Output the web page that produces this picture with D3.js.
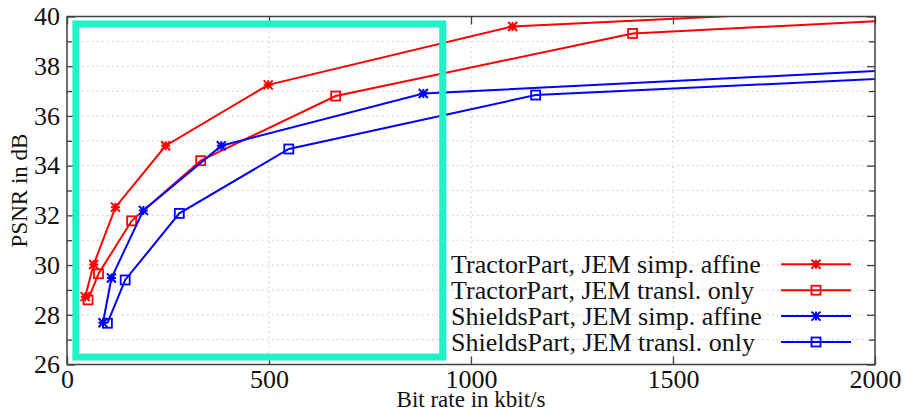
<!DOCTYPE html>
<html>
<head>
<meta charset="utf-8">
<script src="https://cdn.jsdelivr.net/npm/d3@7"></script>
<style>
  html, body { margin: 0; padding: 0; background: #fff; }
  svg { display: block; }
  text { font-family: "Liberation Serif", "Times New Roman", serif; fill: #111; }
</style>
</head>
<body>
<svg id="chart" width="906" height="409"></svg>
<script>
// Rate-distortion measurements (bit rate in kbit/s, PSNR in dB)
const tractorAffineRate = [45, 66, 120, 244, 498, 1103, 2300];
const tractorAffinePsnr = [28.73, 30.02, 32.33, 34.8, 37.25, 39.6, 40.53];

const tractorTranslRate = [52, 78, 160, 331, 665, 1400, 2600];
const tractorTranslPsnr = [28.6, 29.65, 31.78, 34.2, 36.8, 39.32, 40.29];

const shieldsAffineRate = [89, 110, 189, 382, 882, 2600];
const shieldsAffinePsnr = [27.68, 29.48, 32.2, 34.8, 36.9, 38.29];

const shieldsTranslRate = [100, 144, 278, 549, 1160, 2600];
const shieldsTranslPsnr = [27.66, 29.4, 32.08, 34.67, 36.84, 37.94];

const seriesNames = [
  "TractorPart, JEM simp. affine",
  "TractorPart, JEM transl. only",
  "ShieldsPart, JEM simp. affine",
  "ShieldsPart, JEM transl. only"
];
const seriesColors = ["#ff0000", "#ff0000", "#0000ff", "#0000ff"];
const seriesMarkers = ["star", "square", "star", "square"];

const xTicks = [0, 500, 1000, 1500, 2000];
const yTicks = [26, 28, 30, 32, 34, 36, 38, 40];
const yMinorTicks = [27, 29, 31, 33, 35, 37, 39];
const xLabel = "Bit rate in kbit/s";
const yLabel = "PSNR in dB";

// Highlighted low-rate region
const regionRate = [22, 930];
const regionPsnr = [26.3, 39.7];

(function () {
  const series = [
    [tractorAffineRate, tractorAffinePsnr],
    [tractorTranslRate, tractorTranslPsnr],
    [shieldsAffineRate, shieldsAffinePsnr],
    [shieldsTranslRate, shieldsTranslPsnr]
  ].map(([r, p], i) => ({
    name: seriesNames[i],
    color: seriesColors[i],
    marker: seriesMarkers[i],
    points: r.map((v, j) => ({ x: v, y: p[j] }))
  }));

  const svg = d3.select("#chart");
  const pl = 67, pr = 875, pt = 16.5, pb = 364.5;

  const x = d3.scaleLinear().domain([0, 2000]).range([pl, pr]);
  const y = d3.scaleLinear().domain([26, 40]).range([pb, pt]);

  svg.append("defs").append("clipPath").attr("id", "plotClip")
    .append("rect").attr("x", pl).attr("y", pt)
    .attr("width", pr - pl).attr("height", pb - pt);

  // Grid
  const grid = svg.append("g").attr("stroke", "#c8c8c8").attr("stroke-width", 1)
    .attr("stroke-dasharray", "1.5,3.5");
  grid.selectAll("line.h").data(d3.range(27, 40)).join("line")
    .attr("class", "h")
    .attr("x1", pl).attr("x2", pr)
    .attr("y1", d => y(d)).attr("y2", d => y(d));
  grid.selectAll("line.v").data(xTicks.slice(1, -1)).join("line")
    .attr("class", "v")
    .attr("y1", pt).attr("y2", pb)
    .attr("x1", d => x(d)).attr("x2", d => x(d));

  // Axes built with d3 axis generators, ticks pointing inward
  const axisColor = "#404040";
  function styleAxis(g) {
    g.select(".domain").remove();
    g.selectAll(".tick line").attr("stroke", axisColor).attr("stroke-width", 1.3);
  }
  function styleText(g) {
    g.selectAll("text").attr("font-size", 26).attr("fill", "#111")
      .attr("font-family", "Liberation Serif");
  }
  svg.append("g").attr("transform", `translate(0,${pb})`)
    .call(d3.axisBottom(x).tickValues(xTicks).tickSize(-8).tickPadding(5).tickFormat(d3.format("d")))
    .call(styleAxis).call(styleText);
  svg.append("g").attr("transform", `translate(0,${pt})`)
    .call(d3.axisTop(x).tickValues(xTicks).tickSize(-8).tickFormat(""))
    .call(styleAxis);
  svg.append("g").attr("transform", `translate(${pl},0)`)
    .call(d3.axisLeft(y).tickValues(yTicks).tickSize(-8).tickPadding(7).tickFormat(d3.format("d")))
    .call(styleAxis).call(styleText);
  svg.append("g").attr("transform", `translate(${pl},0)`)
    .call(d3.axisLeft(y).tickValues(yMinorTicks).tickSize(-5).tickFormat(""))
    .call(styleAxis);
  svg.append("g").attr("transform", `translate(${pr},0)`)
    .call(d3.axisRight(y).tickValues(yTicks).tickSize(-8).tickFormat(""))
    .call(styleAxis);
  svg.append("g").attr("transform", `translate(${pr},0)`)
    .call(d3.axisRight(y).tickValues(yMinorTicks).tickSize(-6).tickFormat(""))
    .call(styleAxis);

  // Series lines and markers
  const line = d3.line().x(d => x(d.x)).y(d => y(d.y));
  const plot = svg.append("g").attr("clip-path", "url(#plotClip)");

  function drawMarker(g, type, color) {
    if (type === "square") {
      g.append("rect").attr("x", -4.5).attr("y", -4.5).attr("width", 9).attr("height", 9)
        .attr("fill", "none").attr("stroke", color).attr("stroke-width", 1.8);
    } else {
      const r = 4.5;
      const p = `M${-r},0H${r}M0,${-r}V${r}M${-r},${-r}L${r},${r}M${-r},${r}L${r},${-r}`;
      g.append("path").attr("d", p).attr("stroke", color).attr("stroke-width", 2)
        .attr("fill", "none");
    }
  }

  series.forEach(s => {
    plot.append("path").datum(s.points)
      .attr("d", line).attr("fill", "none")
      .attr("stroke", s.color).attr("stroke-width", 2);
    s.points.forEach(p => {
      const g = plot.append("g").attr("transform", `translate(${x(p.x)},${y(p.y)})`);
      drawMarker(g, s.marker, s.color);
    });
  });

  // Highlight box
  svg.append("rect")
    .attr("x", x(regionRate[0])).attr("y", y(regionPsnr[1]))
    .attr("width", x(regionRate[1]) - x(regionRate[0]))
    .attr("height", y(regionPsnr[0]) - y(regionPsnr[1]))
    .attr("fill", "none").attr("stroke", "#1ff2c6").attr("stroke-width", 7);

  // Frame
  svg.append("rect").attr("x", pl).attr("y", pt)
    .attr("width", pr - pl).attr("height", pb - pt)
    .attr("fill", "none").attr("stroke", axisColor).attr("stroke-width", 1.5);

  // Legend
  const legend = svg.append("g");
  series.forEach((s, i) => {
    const cy = 264.3 + i * 25.9;
    legend.append("text").attr("x", 451).attr("y", cy + 8.5)
      .attr("font-size", 26).text(s.name);
    legend.append("line").attr("x1", 781).attr("x2", 851)
      .attr("y1", cy).attr("y2", cy)
      .attr("stroke", s.color).attr("stroke-width", 2);
    const g = legend.append("g").attr("transform", `translate(816,${cy})`);
    drawMarker(g, s.marker, s.color);
  });

  // Axis titles
  svg.append("text").attr("x", (pl + pr) / 2).attr("y", 407)
    .attr("text-anchor", "middle").attr("font-size", 23).text(xLabel);
  svg.append("text")
    .attr("transform", `translate(27,${(pt + pb) / 2}) rotate(-90)`)
    .attr("text-anchor", "middle").attr("font-size", 23).text(yLabel);
})();
</script>
</body>
</html>
